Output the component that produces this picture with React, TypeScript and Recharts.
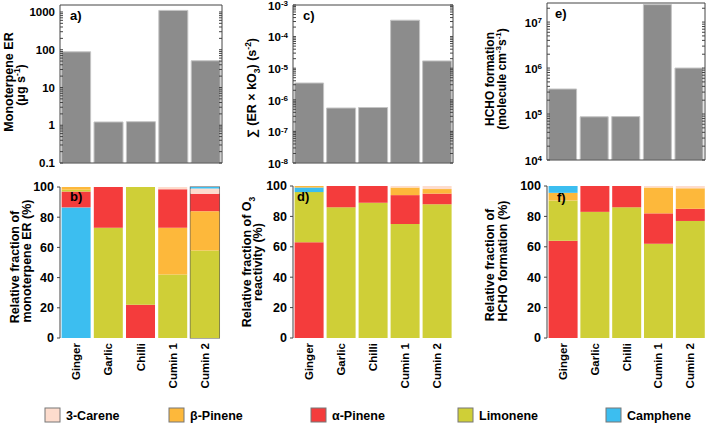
import React from 'react';
import { BarChart, Bar, XAxis, YAxis, Cell, ReferenceLine } from 'recharts';

const FONT = "'Liberation Sans', Arial, Helvetica, sans-serif";

const categories = ['Ginger', 'Garlic', 'Chilli', 'Cumin 1', 'Cumin 2'];

// top row (log scales)
const emissionRate = [88, 1.22, 1.24, 1100, 51];
const o3Reactivity = [3.4e-6, 5.5e-7, 5.7e-7, 3.3e-4, 1.7e-5];
const hchoFormation = [3.5e5, 8.7e4, 8.8e4, 2.4e7, 1.0e6];

const erTicks = [0.1, 1, 10, 100, 1000];
const o3Ticks = [1e-8, 1e-7, 1e-6, 1e-5, 1e-4, 1e-3];
const hchoTicks = [1e4, 1e5, 1e6, 1e7];
const pctTicks = [0, 20, 40, 60, 80, 100];

// bottom row: stack order per category (bottom -> top)
type Seg = [string, number];
const erFraction: Seg[][] = [
  [['Camphene', 86.5], ['α-Pinene', 10.5], ['Limonene', 1.2], ['β-Pinene', 1.8]],
  [['Limonene', 73], ['α-Pinene', 27]],
  [['α-Pinene', 22], ['Limonene', 78]],
  [['Limonene', 42], ['β-Pinene', 31], ['α-Pinene', 25.5], ['3-Carene', 1.5]],
  [['Limonene', 58], ['β-Pinene', 26], ['α-Pinene', 11.5], ['3-Carene', 3.5], ['Camphene', 1]],
];
const o3Fraction: Seg[][] = [
  [['α-Pinene', 63], ['Limonene', 33], ['Camphene', 3], ['β-Pinene', 1]],
  [['Limonene', 86], ['α-Pinene', 14]],
  [['Limonene', 89], ['α-Pinene', 11]],
  [['Limonene', 75], ['α-Pinene', 19], ['β-Pinene', 5], ['3-Carene', 1]],
  [['Limonene', 88], ['α-Pinene', 7], ['β-Pinene', 3], ['3-Carene', 2]],
];
const hchoFraction: Seg[][] = [
  [['α-Pinene', 64], ['Limonene', 26.5], ['β-Pinene', 5], ['Camphene', 4.5]],
  [['Limonene', 83], ['α-Pinene', 17]],
  [['Limonene', 86], ['α-Pinene', 14]],
  [['Limonene', 62], ['α-Pinene', 20], ['β-Pinene', 17], ['3-Carene', 1]],
  [['Limonene', 77], ['α-Pinene', 8], ['β-Pinene', 13.5], ['3-Carene', 1.5]],
];

const compounds = ['3-Carene', 'β-Pinene', 'α-Pinene', 'Limonene', 'Camphene'];
const compoundColors = ['#FDDCCD', '#FDB83B', '#F43C3C', '#CFCF37', '#3CBEF0'];
const colorOf = (name: string) => compoundColors[compounds.indexOf(name)] || 'none';

const LAYERS = [0, 1, 2, 3, 4];
const FRAME = '#444';

function minorTicks(majors: number[], max: number) {
  const out: number[] = [];
  majors.forEach((m) => {
    for (let k = 1; k <= 9; k++) {
      const v = m * k;
      if (v <= max * 1.0001) out.push(v);
    }
  });
  return out;
}

function isMajor(v: number) {
  const l = Math.log10(v);
  return Math.abs(l - Math.round(l)) < 1e-6;
}

function makeLogTick(style: 'plain' | 'pow') {
  return (p: any) => {
    const v = p.payload.value;
    if (!isMajor(v)) return <g />;
    const e = Math.round(Math.log10(v));
    if (style === 'plain') {
      return (
        <text x={p.x} y={p.y} dy="0.35em" textAnchor="end" fontSize={11.5} fontWeight="bold" fill="#000" fontFamily={FONT}>
          {v < 1 ? v.toString() : String(Math.round(v))}
        </text>
      );
    }
    return (
      <text x={p.x} y={p.y} dy="0.42em" textAnchor="end" fontSize={11.5} fontWeight="bold" fill="#000" fontFamily={FONT}>
        <tspan>10</tspan>
        <tspan dy={-3.5} fontSize={8}>{String(e)}</tspan>
      </text>
    );
  };
}

const emptyTick = () => <g />;

function CategoryTick(p: any) {
  return (
    <text
      x={p.x}
      y={p.y}
      transform={`rotate(-90, ${p.x}, ${p.y})`}
      textAnchor="end"
      dy="0.35em"
      fontSize={11.5}
      fontWeight="bold"
      fill="#000"
      fontFamily={FONT}
    >
      {p.payload.value}
    </text>
  );
}

type LogPanelProps = {
  left: number; width: number; values: number[]; domain: [number, number]; majors: number[];
  style: 'plain' | 'pow'; yWidth: number; mTop: number; mRight: number; mBottom: number; rWidth: number;
};

function LogPanel(props: LogPanelProps) {
  const data = categories.map((c, i) => ({ name: c, value: props.values[i] }));
  const ticks = minorTicks(props.majors, props.domain[1]).filter((t) => t >= props.domain[0] * 0.9999);
  return (
    <div style={{ position: 'absolute', left: props.left, top: 0 }}>
      <BarChart
        width={props.width}
        height={170}
        data={data}
        margin={{ top: props.mTop, right: props.mRight, bottom: props.mBottom, left: 0 }}
        barCategoryGap="5%"
      >
        <XAxis dataKey="name" height={5} tick={false} tickLine={false} axisLine={{ stroke: FRAME }} />
        <YAxis
          yAxisId="l"
          scale="log"
          type="number"
          domain={props.domain}
          allowDataOverflow
          ticks={ticks}
          interval={0}
          width={props.yWidth}
          tickSize={-3}
          tickMargin={8}
          tick={makeLogTick(props.style)}
          axisLine={{ stroke: FRAME }}
          tickLine={{ stroke: FRAME }}
        />
        <YAxis
          yAxisId="r"
          orientation="right"
          scale="log"
          type="number"
          domain={props.domain}
          allowDataOverflow
          ticks={ticks}
          interval={0}
          width={props.rWidth}
          tickSize={-3}
          tick={emptyTick}
          axisLine={{ stroke: FRAME }}
          tickLine={{ stroke: FRAME }}
        />
        <ReferenceLine yAxisId="l" y={props.domain[1]} stroke={FRAME} ifOverflow="extendDomain" />
        <Bar yAxisId="l" dataKey="value" fill="#8C8C8C" stroke="#C4C4C4" strokeWidth={1} isAnimationActive={false} />
      </BarChart>
    </div>
  );
}

type PctPanelProps = {
  left: number; width: number; stacks: Seg[][]; yWidth: number; mTop: number; mRight: number;
};

function PctPanel(props: PctPanelProps) {
  const rows = categories.map((c, i) => {
    const row: any = { name: c };
    LAYERS.forEach((k) => {
      const seg = props.stacks[i][k];
      row['s' + k] = seg ? seg[1] : 0;
      row['c' + k] = seg ? seg[0] : '';
    });
    return row;
  });
  const H = 230;
  const plotBottomLocal = 338 - 170;
  return (
    <div style={{ position: 'absolute', left: props.left, top: 170 }}>
      <BarChart
        width={props.width}
        height={H}
        data={rows}
        margin={{ top: props.mTop, right: props.mRight, bottom: 0, left: 0 }}
        barCategoryGap="5%"
      >
        <XAxis
          dataKey="name"
          height={H - plotBottomLocal}
          axisLine={false}
          tickLine={false}
          tickSize={0}
          tickMargin={5}
          interval={0}
          tick={CategoryTick}
        />
        <YAxis
          type="number"
          domain={[0, 100]}
          ticks={pctTicks}
          interval={0}
          width={props.yWidth}
          tickSize={3}
          tickMargin={3}
          axisLine={{ stroke: FRAME }}
          tickLine={{ stroke: FRAME }}
          tick={{ fontSize: 12.5, fontWeight: 'bold', fill: '#000', fontFamily: FONT }}
        />
        {LAYERS.map((k) => (
          <Bar
            key={k}
            dataKey={'s' + k}
            stackId="a"
            isAnimationActive={false}
            background={k === LAYERS.length - 1 ? { fill: 'none', stroke: '#555', strokeWidth: 1.2 } : undefined}
          >
            {rows.map((r: any, j: number) => (
              <Cell key={j} fill={colorOf(r['c' + k])} />
            ))}
          </Bar>
        ))}
      </BarChart>
    </div>
  );
}

function RotText(props: { x: number; y: number; size?: number; children: React.ReactNode }) {
  return (
    <text
      x={props.x}
      y={props.y}
      transform={`rotate(-90, ${props.x}, ${props.y})`}
      textAnchor="middle"
      dy="0.35em"
      fontSize={props.size || 12.5}
      fontWeight="bold"
      fill="#000"
      fontFamily={FONT}
    >
      {props.children}
    </text>
  );
}

const panelLetters: [string, number, number][] = [
  ['a)', 70, 20], ['c)', 303, 20], ['e)', 555, 18], ['b)', 70, 201], ['d)', 297, 201], ['f)', 557, 202],
];
const legendX = [45, 169, 311, 458, 606];

export default function App() {
  return (
    <div style={{ position: 'absolute', left: 0, top: 0, width: 709, height: 425, background: '#fff', fontFamily: FONT }}>
      <LogPanel left={0} width={230} values={emissionRate} domain={[0.1, 1530]} majors={erTicks} style="plain"
        yWidth={60} rWidth={6} mTop={5} mRight={2} mBottom={2} />
      <LogPanel left={232} width={230} values={o3Reactivity} domain={[1e-8, 1e-3]} majors={o3Ticks} style="pow"
        yWidth={61} rWidth={6} mTop={5} mRight={3} mBottom={2} />
      <LogPanel left={465} width={244} values={hchoFormation} domain={[1e4, 2.6e7]} majors={hchoTicks} style="pow"
        yWidth={82} rWidth={3} mTop={3} mRight={1} mBottom={5} />

      <PctPanel left={0} width={230} stacks={erFraction} yWidth={60} mTop={17} mRight={9} />
      <PctPanel left={232} width={230} stacks={o3Fraction} yWidth={61} mTop={16} mRight={9} />
      <PctPanel left={465} width={244} stacks={hchoFraction} yWidth={82} mTop={16} mRight={3} />

      <svg width={709} height={425} style={{ position: 'absolute', left: 0, top: 0, pointerEvents: 'none' }}>
        <RotText x={9} y={82}>Monoterpene ER</RotText>
        <RotText x={21} y={85}>
          (μg s<tspan dy={-5} fontSize={8.5}>-1</tspan><tspan dy={5}>)</tspan>
        </RotText>
        <RotText x={252} y={88}>
          ∑ (ER × kO<tspan dy={4} fontSize={8.5}>3</tspan><tspan dy={-4}>) (s</tspan><tspan dy={-5} fontSize={8.5}>-2</tspan><tspan dy={5}>)</tspan>
        </RotText>
        <RotText x={490} y={79} size={12}>HCHO formation</RotText>
        <RotText x={502} y={79} size={12}>
          (molecule cm<tspan dy={-5} fontSize={8}>-3</tspan><tspan dy={5}>s</tspan><tspan dy={-5} fontSize={8}>-1</tspan><tspan dy={5}>)</tspan>
        </RotText>

        <RotText x={15} y={267}>Relative fraction of</RotText>
        <RotText x={27} y={261}>monoterpene  ER (%)</RotText>
        <RotText x={247} y={262}>
          Relative fraction of O<tspan dy={4} fontSize={8.5}>3</tspan>
        </RotText>
        <RotText x={258} y={262}>reactivity (%)</RotText>
        <RotText x={490} y={265}>Relative fraction of</RotText>
        <RotText x={503} y={261}>HCHO formation (%)</RotText>

        {panelLetters.map(([t, x, y]) => (
          <text key={t} x={x} y={y} fontSize={13} fontWeight="bold" fill="#000" fontFamily={FONT}>{t}</text>
        ))}

        {compounds.map((c, i) => (
          <g key={c}>
            <rect x={legendX[i]} y={408} width={15} height={14} fill={compoundColors[i]} stroke="#777" strokeWidth={1} />
            <text x={legendX[i] + 21} y={419.5} fontSize={12.5} fontWeight="bold" fill="#000" fontFamily={FONT}>{c}</text>
          </g>
        ))}
      </svg>
    </div>
  );
}
